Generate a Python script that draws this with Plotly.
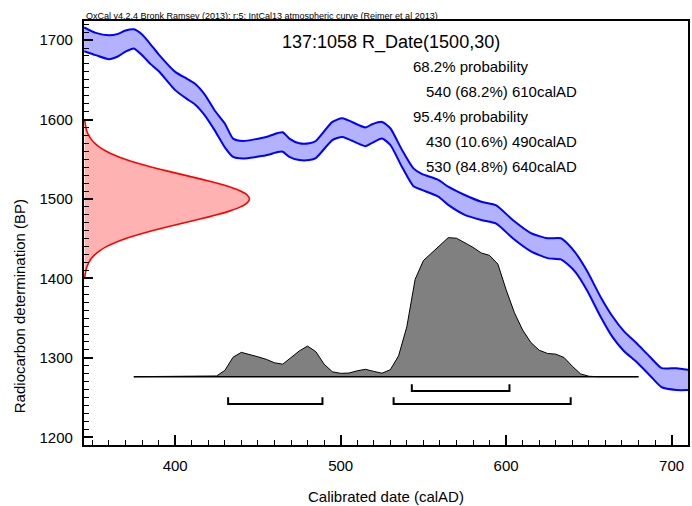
import plotly.graph_objects as go

# ---------------- data ----------------
# IntCal13 calibration curve band (calAD vs BP, +/- 1 sigma)
cal_years = [345, 352, 360, 365, 370, 375, 380, 385, 390, 400, 407, 412, 418, 424, 430,
             435, 441, 455, 462, 465, 469, 475, 481, 485, 495, 501, 515, 519, 525, 530,
             537, 544, 549, 559, 565, 575, 585, 594, 604, 615, 625, 633, 637, 642, 649,
             657, 664, 671, 679, 687, 694, 703, 710]
cal_upper = [1716, 1709, 1706, 1707.5, 1712, 1713.5, 1707, 1695, 1682, 1660, 1651.5, 1645,
             1631, 1611, 1595, 1576, 1573, 1578, 1583, 1584, 1576, 1570, 1570, 1573, 1597,
             1601.5, 1590, 1594, 1597, 1589, 1562, 1538.5, 1531.5, 1524, 1515.5, 1505,
             1496.5, 1492, 1473.5, 1457, 1450.5, 1450.5, 1444, 1432, 1409, 1377, 1353,
             1334, 1318, 1301, 1287, 1287, 1285]
cal_lower = [1686, 1681, 1676, 1679, 1685.5, 1689.5, 1681, 1670, 1661, 1637, 1626, 1619,
             1605, 1586, 1565, 1553, 1551, 1555, 1559, 1559.5, 1553, 1549, 1549, 1551.5,
             1574, 1578, 1566.5, 1570.5, 1576, 1568, 1540.5, 1516, 1511.5, 1503, 1492.5,
             1480, 1473.5, 1469, 1450.5, 1434, 1425.5, 1424, 1418, 1407.5, 1384.5, 1352,
             1327, 1309, 1294.5, 1277.5, 1263, 1259.5, 1259.5]

# Radiocarbon date R_Date(1500,30): BP grid and relative probability
rdate_bp = [1400, 1405, 1410, 1415, 1420, 1425, 1430, 1435, 1440, 1445, 1450, 1455, 1460,
            1465, 1470, 1475, 1480, 1485, 1490, 1495, 1500, 1505, 1510, 1515, 1520, 1525,
            1530, 1535, 1540, 1545, 1550, 1555, 1560, 1565, 1570, 1575, 1580, 1585, 1590,
            1595, 1600]
rdate_prob = [0.004, 0.007, 0.011, 0.018, 0.029, 0.044, 0.066, 0.096, 0.135, 0.186, 0.249,
              0.325, 0.411, 0.506, 0.607, 0.707, 0.801, 0.883, 0.946, 0.986, 1.0, 0.986,
              0.946, 0.883, 0.801, 0.707, 0.607, 0.506, 0.411, 0.325, 0.249, 0.186, 0.135,
              0.096, 0.066, 0.044, 0.029, 0.018, 0.011, 0.007, 0.004]

# Calibrated (posterior) distribution, relative probability
post_years = [375, 420, 425, 430, 435, 440, 445, 450, 455, 460, 465, 470, 475, 480, 485,
              490, 495, 500, 505, 510, 515, 520, 525, 530, 535, 540, 545, 550, 555, 560,
              565, 570, 575, 580, 585, 590, 595, 600, 605, 610, 615, 620, 625, 630, 635,
              640, 645, 650, 655, 680]
post_prob = [0, 0, 0.005, 0.045, 0.14, 0.175, 0.161, 0.143, 0.125, 0.10, 0.09, 0.135, 0.185,
             0.22, 0.18, 0.09, 0.035, 0.024, 0.026, 0.042, 0.053, 0.038, 0.025, 0.05, 0.15,
             0.36, 0.70, 0.835, 0.89, 0.94, 1.0, 0.996, 0.965, 0.93, 0.89, 0.872, 0.81,
             0.625, 0.46, 0.335, 0.245, 0.19, 0.167, 0.162, 0.138, 0.075, 0.02, 0.003, 0, 0]

# Highest probability ranges
range68_start = [543]
range68_end = [602]
range95_start = [432, 532]
range95_end = [489, 639]

title_text = "137:1058 R_Date(1500,30)"
header_text = "OxCal v4.2.4 Bronk Ramsey (2013); r:5; IntCal13 atmospheric curve (Reimer et al 2013)"
prob_lines = ["68.2% probability", "540 (68.2%) 610calAD", "95.4% probability",
              "430 (10.6%) 490calAD", "530 (84.8%) 640calAD"]
x_ticks = [400, 500, 600, 700]
y_ticks = [1200, 1300, 1400, 1500, 1600, 1700]

# ---------------- layout constants ----------------
X_RANGE = [344.9, 709.9]
Y_RANGE = [1190.3, 1724.0]
RDATE_WIDTH = 100      # horizontal extent (years) of the R_Date curve
POST_BASE = 1276.3     # BP level of posterior baseline
POST_HEIGHT = 175      # BP height of posterior peak
BR68_Y, BR68_TICK = 1258.3, 8.5
BR95_Y, BR95_TICK = 1242.0, 8.5

FONT = "Liberation Sans, Arial, Helvetica, sans-serif"

fig = go.Figure()

# calibration curve band
fig.add_trace(go.Scatter(x=cal_years, y=cal_lower, mode="lines",
                         line=dict(color="#0000ff", width=2, shape="spline", smoothing=0.6),
                         hoverinfo="skip", showlegend=False))
fig.add_trace(go.Scatter(x=cal_years, y=cal_upper, mode="lines", fill="tonexty",
                         fillcolor="rgb(178,178,255)",
                         line=dict(color="#0000ff", width=2, shape="spline", smoothing=0.6),
                         hoverinfo="skip", showlegend=False))

# radiocarbon date distribution on the y axis
rx = [X_RANGE[0] + p * RDATE_WIDTH for p in rdate_prob]
fig.add_trace(go.Scatter(x=rx, y=rdate_bp, mode="lines", fill="toself",
                         fillcolor="rgb(255,178,178)",
                         line=dict(color="#ff0000", width=1.6, shape="spline", smoothing=0.5),
                         hoverinfo="skip", showlegend=False))

# calibrated distribution
py = [POST_BASE + p * POST_HEIGHT for p in post_prob]
fig.add_trace(go.Scatter(x=post_years, y=py, mode="lines", fill="toself",
                         fillcolor="rgb(128,128,128)",
                         line=dict(color="#000000", width=1),
                         hoverinfo="skip", showlegend=False))
fig.add_trace(go.Scatter(x=[post_years[0], post_years[-1]], y=[POST_BASE, POST_BASE],
                         mode="lines", line=dict(color="#000000", width=1.6),
                         hoverinfo="skip", showlegend=False))

# range brackets
def bracket(x0, x1, yb, tick):
    fig.add_trace(go.Scatter(x=[x0, x0, x1, x1], y=[yb + tick, yb, yb, yb + tick],
                             mode="lines", line=dict(color="#000000", width=2),
                             hoverinfo="skip", showlegend=False))

for a, b in zip(range68_start, range68_end):
    bracket(a, b, BR68_Y, BR68_TICK)
for a, b in zip(range95_start, range95_end):
    bracket(a, b, BR95_Y, BR95_TICK)

# ---------------- axes ----------------
axis_common = dict(showgrid=False, zeroline=False, showline=True, linecolor="#000000",
                   linewidth=2.2, mirror=True, ticks="inside", tickcolor="#000000",
                   tickwidth=1.6, tickfont=dict(family=FONT, size=15, color="#000000"))
fig.update_xaxes(range=X_RANGE, tickvals=x_ticks, ticklen=10,
                 minor=dict(dtick=10, tick0=0, ticks="inside", ticklen=5, tickwidth=1.2,
                            tickcolor="#000000"),
                 ticklabelstandoff=6, **axis_common)
fig.update_yaxes(range=Y_RANGE, tickvals=y_ticks, ticklen=9,
                 minor=dict(dtick=10, tick0=0, ticks="inside", ticklen=5, tickwidth=1.2,
                            tickcolor="#000000"),
                 ticklabelstandoff=6, **axis_common)

W, H = 692, 506
L, R, T, B = 84, 2, 21, 61
pw, ph = W - L - R, H - T - B


def px(xp):
    return (xp - L) / pw


def py_(yp):
    return (H - B - yp) / ph


ann = []
ann.append(dict(text=header_text, x=px(84), y=py_(16.5), xanchor="left", yanchor="middle",
                font=dict(family=FONT, size=9, color="#000000")))
ann.append(dict(text=title_text, x=px(281), y=py_(42.5), xanchor="left", yanchor="middle",
                font=dict(family=FONT, size=18, color="#000000")))
line_pos = [(412, 66.5), (425, 91.5), (412, 116.5), (425, 141.5), (425, 166.5)]
for t, (xp, yp) in zip(prob_lines, line_pos):
    ann.append(dict(text=t, x=px(xp), y=py_(yp), xanchor="left", yanchor="middle",
                    font=dict(family=FONT, size=15, color="#000000")))
ann.append(dict(text="Radiocarbon determination (BP)", x=px(19), y=py_(306), textangle=-90,
                xanchor="center", yanchor="middle",
                font=dict(family=FONT, size=15, color="#000000")))
ann.append(dict(text="Calibrated date (calAD)", x=px(387), y=py_(496), xanchor="center",
                yanchor="middle", font=dict(family=FONT, size=15, color="#000000")))
for a in ann:
    a.update(xref="paper", yref="paper", showarrow=False)

fig.update_layout(width=W, height=H, margin=dict(l=L, r=R, t=T, b=B),
                  plot_bgcolor="#ffffff", paper_bgcolor="#ffffff",
                  annotations=ann, showlegend=False)

fig.write_html("out.html", config={"displayModeBar": False},
               post_script="document.body.style.margin='0px';document.body.style.padding='0px';")
